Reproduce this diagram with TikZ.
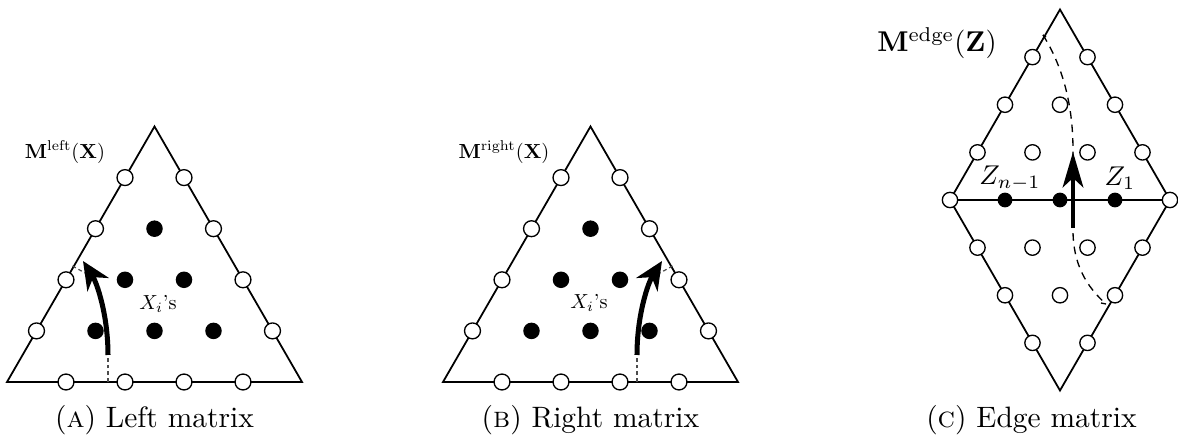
\documentclass[tikz,border=0pt]{standalone}
\usetikzlibrary{arrows.meta}
\begin{document}
\begin{tikzpicture}[x=0.339pt,y=-0.339pt,
  edgeline/.style={line width=0.6pt},
  opendot/.style={circle,draw,line width=0.45pt,fill=white,inner sep=0pt,minimum size=5.4pt},
  fulldot/.style={circle,fill=black,inner sep=0pt,minimum size=5.6pt},
  eopendot/.style={opendot,minimum size=5.2pt},
  efulldot/.style={fulldot,minimum size=5pt},
  thindash/.style={dash pattern=on 1.3pt off 1pt,line width=0.4pt,draw=black!70},
  edgedash/.style={dash pattern=on 2.6pt off 2pt,line width=0.45pt},
  bigarrow/.style={line width=1.7pt,-{Stealth[length=9.5pt,width=8.5pt,inset=3pt]}},
  edgearrow/.style={line width=1.4pt,-{Stealth[length=12pt,width=7pt,inset=3.2pt]}},
  caption/.style={anchor=base,font=\normalsize}
]
\useasboundingbox (0,0) rectangle (1178,441);

% ---------- (A) left triangle ----------
\coordinate (LA) at (7,382);
\coordinate (LB) at (302,382);
\coordinate (LC) at (154.5,126.5);
\draw[edgeline] (LA) -- (LB) -- (LC) -- cycle;
\foreach \i/\j in {1/0,2/0,3/0,4/0,0/1,0/2,0/3,0/4,4/1,3/2,2/3,1/4}
  \node[opendot] (L-\i-\j) at ({7+59*\i+29.5*\j},{382-51.1*\j}) {};
\foreach \i/\j in {1/1,2/1,3/1,1/2,2/2,1/3}
  \node[fulldot] (L-\i-\j) at ({7+59*\i+29.5*\j},{382-51.1*\j}) {};
\coordinate (LF) at (108,382);
\coordinate (LS) at (108,355);
\coordinate (LT) at (83,261);
\coordinate (LE) at (72.5,266);
\coordinate (LE2) at (85,273);
\draw[thindash] (LF) -- (LS);
\draw[thindash] (LE) -- (LE2);
\draw[bigarrow] (LS) .. controls (108,315) and (97,283) .. (LT);
\node (Llab) at (65,152) {\scalebox{0.69}{$\mathbf{M}^{\mathrm{left}}(\mathbf{X})$}};
\node (Lxi) at (158,304) {\scalebox{0.69}{$X_i$'s}};
\node[caption] (Lcap) at (154.5,428) {(\textsc{a}) Left matrix};

% ---------- (B) right triangle ----------
\coordinate (RA) at (443,382);
\coordinate (RB) at (738,382);
\coordinate (RC) at (590.5,126.5);
\draw[edgeline] (RA) -- (RB) -- (RC) -- cycle;
\foreach \i/\j in {1/0,2/0,3/0,4/0,0/1,0/2,0/3,0/4,4/1,3/2,2/3,1/4}
  \node[opendot] (R-\i-\j) at ({443+59*\i+29.5*\j},{382-51.1*\j}) {};
\foreach \i/\j in {1/1,2/1,3/1,1/2,2/2,1/3}
  \node[fulldot] (R-\i-\j) at ({443+59*\i+29.5*\j},{382-51.1*\j}) {};
\coordinate (RF) at (637,382);
\coordinate (RS) at (637,355);
\coordinate (RT) at (662,261);
\coordinate (RE) at (672.5,266);
\coordinate (RE2) at (660,273);
\draw[thindash] (RF) -- (RS);
\draw[thindash] (RE) -- (RE2);
\draw[bigarrow] (RS) .. controls (637,315) and (648,283) .. (RT);
\node (Rlab) at (504,152) {\scalebox{0.69}{$\mathbf{M}^{\mathrm{right}}(\mathbf{X})$}};
\node (Rxi) at (589,303) {\scalebox{0.69}{$X_i$'s}};
\node[caption] (Rcap) at (590.5,428) {(\textsc{b}) Right matrix};

% ---------- (C) edge diamond ----------
\coordinate (EL) at (950,200);
\coordinate (ER) at (1170,200);
\coordinate (ET) at (1060,9.5);
\coordinate (EB) at (1060,390.5);
\draw[edgeline] (EL) -- (ET) -- (ER) -- (EB) -- cycle;
\draw[edgeline] (EL) -- (ER);
% dashed curve
\coordinate (D1) at (1043,35);
\coordinate (D2) at (1073,150);
\coordinate (D3) at (1073,230);
\coordinate (D4) at (1106,304);
\draw[edgedash] (D1) .. controls (1065,70) and (1073,110) .. (D2) -- (D3)
  .. controls (1073,265) and (1087,287) .. (D4);
\coordinate (D1t) at (1046,37);
\coordinate (D4t) at (1101,303);
\draw[line width=0.45pt] (D1) -- (D1t);
\draw[line width=0.45pt] (D4) -- (D4t);
% upper half
\foreach \i/\j in {0/0,4/0,0/1,0/2,0/3,3/1,2/2,1/3,1/1,2/1,1/2}
  \node[eopendot] (EU-\i-\j) at ({950+55*\i+27.5*\j},{200-47.63*\j}) {};
% lower half
\foreach \i/\j in {0/1,0/2,0/3,3/1,2/2,1/3,1/1,2/1,1/2}
  \node[eopendot] (ED-\i-\j) at ({950+55*\i+27.5*\j},{200+47.63*\j}) {};
\foreach \i in {1,2,3}
  \node[efulldot] (EM-\i) at ({950+55*\i},200) {};
\coordinate (EA) at (1073,228);
\coordinate (EAT) at (1073,152);
\draw[edgearrow] (EA) -- (EAT);
\node (Zn) at (1010,178) {\scalebox{0.92}{$Z_{n-1}$}};
\node (Z1) at (1120,178) {\scalebox{0.92}{$Z_1$}};
\node (Elab) at (937,43) {\scalebox{0.97}{$\mathbf{M}^{\mathrm{edge}}(\mathbf{Z})$}};
\node[caption] (Ecap) at (1031.5,428) {(\textsc{c}) Edge matrix};
\end{tikzpicture}
\end{document}
